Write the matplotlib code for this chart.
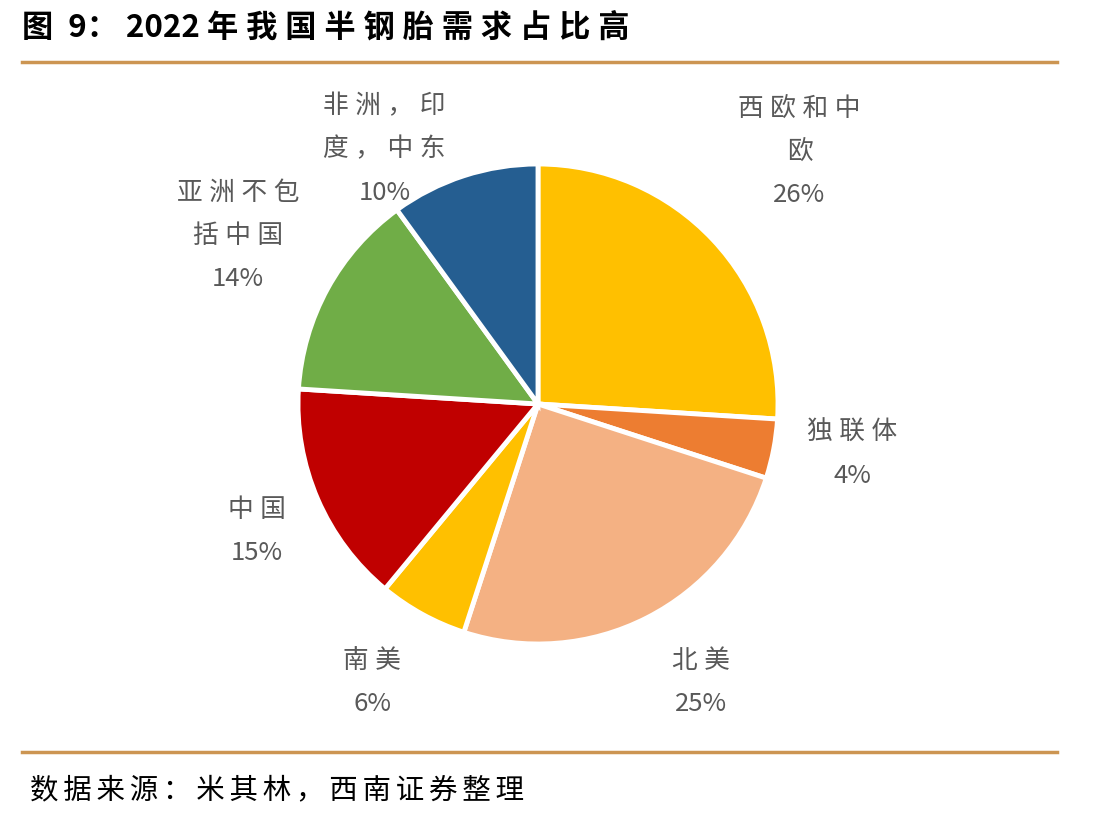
import matplotlib
matplotlib.use("Agg")
import matplotlib.pyplot as plt
from matplotlib.lines import Line2D

plt.rcParams['font.family'] = ['Noto Sans CJK SC', 'DejaVu Sans']

labels = ["西欧和中\n欧", "独联体", "北美", "南美", "中国", "亚洲不包\n括中国", "非洲，印\n度，中东"]
values = [26, 4, 25, 6, 15, 14, 10]
colors = ["#FFC000", "#ED7D31", "#F4B183", "#FFC000", "#C00000", "#70AD47", "#255E91"]
# label centres in pie units (radius = 1)
label_pos = [(1.09, 1.05), (1.31, -0.21), (0.68, -1.16), (-0.69, -1.16),
             (-1.17, -0.53), (-1.25, 0.70), (-0.64, 1.06)]
title = "图 9：2022 年我国半钢胎需求占比高"
source = "数据来源：米其林，西南证券整理"


def spaced(s, sp):
    # mimic the letter spacing of the original between CJK characters
    out = ""
    for i, ch in enumerate(s):
        out += ch
        if i < len(s) - 1 and ord(ch) > 0x2E80 and s[i + 1] != "\n":
            out += sp
    return out


W, H = 1112, 821
fig = plt.figure(figsize=(W / 100, H / 100), dpi=100)

cx, cy, r = 538, 404, 240
ax = fig.add_axes([(cx - r) / W, 1 - (cy + r) / H, 2 * r / W, 2 * r / H])
ax.pie(values, colors=colors, startangle=90, counterclock=False,
       wedgeprops=dict(edgecolor="white", linewidth=3.5))
ax.set_xlim(-1, 1)
ax.set_ylim(-1, 1)
ax.set_aspect("equal")
ax.axis("off")

for lab, v, (x, y) in zip(labels, values, label_pos):
    ax.text(x, y, f"{spaced(lab, chr(0x2005))}\n{v}%", ha="center", va="center",
            fontsize=18.5, color="#595959", linespacing=1.85, clip_on=False)

# title
fig.text(22 / W, 1 - 28 / H, spaced(title, chr(0x2005)), fontsize=22.5,
         fontweight="bold", ha="left", va="center", color="black")

line_color = "#CC9552"
fig.add_artist(Line2D([22 / W, 1057 / W], [1 - 62 / H, 1 - 62 / H], color=line_color, lw=2.5))
fig.add_artist(Line2D([22 / W, 1057 / W], [1 - 752 / H, 1 - 752 / H], color=line_color, lw=2.5))

fig.text(30 / W, 1 - 790 / H, spaced(source, chr(0x2006)), fontsize=20.5,
         ha="left", va="center", color="black")

fig.savefig("out.png", dpi=100, facecolor="white")
